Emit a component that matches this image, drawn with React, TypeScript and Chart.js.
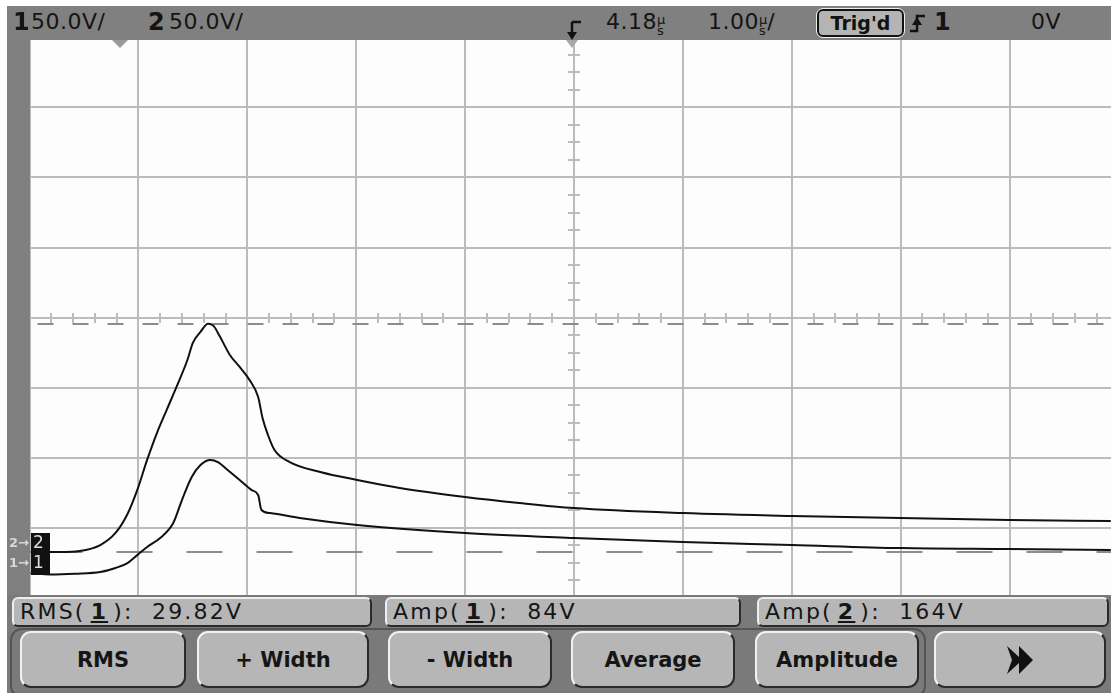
import React, { useEffect, useRef } from "react";
import { Chart, registerables } from "chart.js";

Chart.register(...registerables);

// ---- Scope settings ----
const timePerDiv = 1.0; // µs/div
const triggerDelay = 4.18; // µs (centre of screen)
const voltsPerDiv = 50; // V/div for both channels
const ch2CentreVolts = 167.2; // V shown at screen centre for ch2 (ground offset)
const ch1CentreVolts = 182.2; // V shown at screen centre for ch1
const triggerLevelCh2 = 162.6; // trigger level marker, in ch2 volts
const visibleDivs = 9.932; // screen is cut off on the right

// ---- Channel 2 (large trace) ----
const ch2Time = [
  -0.81, -0.54, -0.36, -0.17, -0.03, 0.08, 0.17, 0.26, 0.35, 0.44, 0.53, 0.63, 0.68, 0.75, 0.82,
  0.87, 0.93, 1.02, 1.11, 1.2, 1.28, 1.32, 1.37, 1.43, 1.57, 1.85, 2.19, 2.58, 3.18, 3.68, 4.18,
  5.18, 6.18, 7.18, 8.18, 9.11,
];
const ch2Volts = [
  0, 0, 0.7, 5.0, 13.6, 27.1, 44.3, 65.7, 84.9, 101.4, 117.8, 137.0, 149.2, 157.0, 162.8,
  161.3, 153.5, 140.6, 132.0, 122.8, 110.6, 95.6, 83.5, 72.8, 64.2, 57.1, 51.4, 45.7, 39.3, 35.0, 31.4,
  27.8, 25.7, 24.3, 22.8, 22.1,
];

// ---- Channel 1 (small trace) ----
const ch1Time = [
  -0.81, -0.63, -0.4, -0.17, -0.03, 0.08, 0.17, 0.26, 0.38, 0.5, 0.58, 0.67, 0.75, 0.84, 0.91,
  1.0, 1.11, 1.22, 1.28, 1.31, 1.39, 1.66, 2.19, 3.18, 4.18, 5.18, 6.18, 7.18, 8.18, 9.11,
];
const ch1Volts = [
  0, -1.0, -0.5, 0.7, 3.6, 7.1, 12.8, 18.6, 25.0, 35.7, 52.1, 68.5, 77.1, 80.7, 79.2,
  73.5, 66.4, 59.2, 55.7, 45.0, 42.8, 39.3, 34.3, 28.6, 25.0, 22.1, 20.0, 17.8, 17.1, 16.4,
];

// ---- Texts ----
const ch1Scale = "50.0V/";
const ch2Scale = "50.0V/";
const delayText = "4.18";
const timebaseText = "1.00";
const trigText = "Trig'd";
const trigLevelText = "0V";
const measurements = [
  { name: "RMS", ch: "1", value: "29.82V" },
  { name: "Amp", ch: "1", value: "84V" },
  { name: "Amp", ch: "2", value: "164V" },
];
const softkeys = ["RMS", "+ Width", "- Width", "Average", "Amplitude"];

const xMin = triggerDelay - 5 * timePerDiv;
const xMax = xMin + visibleDivs * timePerDiv;

const gridPlugin = {
  id: "scopeGrid",
  beforeDatasetsDraw(chart: any) {
    const { ctx, chartArea, scales } = chart;
    const xs = scales.x;
    const y2 = scales.y2;
    ctx.save();
    ctx.beginPath();
    ctx.rect(chartArea.left, chartArea.top, chartArea.right - chartArea.left, chartArea.bottom - chartArea.top);
    ctx.clip();
    ctx.fillStyle = "#fdfdfd";
    ctx.fillRect(chartArea.left, chartArea.top, chartArea.right - chartArea.left, chartArea.bottom - chartArea.top);
    ctx.strokeStyle = "#bcbcbc";
    ctx.lineWidth = 2;
    for (let k = 0; k <= 10; k++) {
      const x = Math.round(xs.getPixelForValue(xMin + k * timePerDiv));
      ctx.beginPath();
      ctx.moveTo(x, chartArea.top);
      ctx.lineTo(x, chartArea.bottom);
      ctx.stroke();
    }
    const y2min = ch2CentreVolts - 4 * voltsPerDiv;
    for (let k = 0; k <= 8; k++) {
      const y = Math.round(y2.getPixelForValue(y2min + k * voltsPerDiv));
      ctx.beginPath();
      ctx.moveTo(chartArea.left, y);
      ctx.lineTo(chartArea.right, y);
      ctx.stroke();
    }
    // centre axis minor ticks
    const yc = Math.round(y2.getPixelForValue(ch2CentreVolts));
    const xc = Math.round(xs.getPixelForValue(triggerDelay));
    for (let k = 0; k <= 50; k++) {
      const x = Math.round(xs.getPixelForValue(xMin + (k * timePerDiv) / 5));
      ctx.beginPath();
      ctx.moveTo(x, yc - 5);
      ctx.lineTo(x, yc + 5);
      ctx.stroke();
    }
    for (let k = 0; k <= 32; k++) {
      const y = Math.round(y2.getPixelForValue(y2min + (k * voltsPerDiv) / 4));
      ctx.beginPath();
      ctx.moveTo(xc - 6, y);
      ctx.lineTo(xc + 6, y);
      ctx.stroke();
    }
    // trigger level dashed line
    ctx.strokeStyle = "#8c8c8c";
    ctx.setLineDash([16, 19]);
    ctx.lineDashOffset = -8;
    const yt = Math.round(y2.getPixelForValue(triggerLevelCh2));
    ctx.beginPath();
    ctx.moveTo(chartArea.left, yt);
    ctx.lineTo(chartArea.right, yt);
    ctx.stroke();
    // ch2 ground reference dashed line
    ctx.setLineDash([36, 34]);
    ctx.lineDashOffset = -17;
    const yg = Math.round(y2.getPixelForValue(0));
    ctx.beginPath();
    ctx.moveTo(chartArea.left, yg);
    ctx.lineTo(chartArea.right, yg);
    ctx.stroke();
    ctx.restore();
  },
};

const FONT = "'DejaVu Sans', 'Liberation Sans', sans-serif";

function ScopeChart() {
  const ref = useRef<HTMLCanvasElement | null>(null);
  useEffect(() => {
    if (!ref.current) return;
    const chart = new Chart(ref.current, {
      type: "line",
      data: {
        datasets: [
          {
            label: "Channel 2",
            data: ch2Time.map((t, i) => ({ x: t, y: ch2Volts[i] })),
            yAxisID: "y2",
            borderColor: "#111",
            borderWidth: 2,
            pointRadius: 0,
            cubicInterpolationMode: "monotone",
          },
          {
            label: "Channel 1",
            data: ch1Time.map((t, i) => ({ x: t, y: ch1Volts[i] })),
            yAxisID: "y1",
            borderColor: "#111",
            borderWidth: 2,
            pointRadius: 0,
            cubicInterpolationMode: "monotone",
          },
        ],
      },
      options: {
        animation: false,
        responsive: false,
        maintainAspectRatio: false,
        devicePixelRatio: 1,
        layout: { padding: { left: 29.5, top: 37.3, right: 0, bottom: 95 } },
        plugins: { legend: { display: false }, tooltip: { enabled: false } },
        scales: {
          x: { type: "linear", min: xMin, max: xMax, display: false },
          y2: {
            type: "linear",
            min: ch2CentreVolts - 4 * voltsPerDiv,
            max: ch2CentreVolts + 4 * voltsPerDiv,
            display: false,
          },
          y1: {
            type: "linear",
            min: ch1CentreVolts - 4 * voltsPerDiv,
            max: ch1CentreVolts + 4 * voltsPerDiv,
            display: false,
          },
        },
      },
      plugins: [gridPlugin],
    } as any);
    return () => chart.destroy();
  }, []);
  return (
    <canvas
      ref={ref}
      width={1111}
      height={693}
      style={{ position: "absolute", left: 0, top: 0, width: 1111, height: 693 }}
    />
  );
}

const abs = (l: number, t: number, w: number, h: number): React.CSSProperties => ({
  position: "absolute",
  left: l,
  top: t,
  width: w,
  height: h,
  boxSizing: "border-box",
});

const panelStyle = (l: number, w: number): React.CSSProperties => ({
  ...abs(l, 597, w, 30),
  background: "#b6b6b6",
  borderRadius: 6,
  borderTop: "2px solid #eeeeee",
  borderLeft: "2px solid #eeeeee",
  borderBottom: "2px solid #2a2a2a",
  borderRight: "2px solid #2a2a2a",
  fontFamily: FONT,
  fontSize: 22,
  letterSpacing: 2.2,
  color: "#151515",
  lineHeight: "26px",
  paddingLeft: 6,
  whiteSpace: "pre",
});

const buttonStyle = (l: number, w: number): React.CSSProperties => ({
  ...abs(l, 631, w, 57),
  background: "#b6b6b6",
  borderRadius: 11,
  borderTop: "2px solid #f2f2f2",
  borderLeft: "2px solid #f2f2f2",
  borderBottom: "2px solid #2a2a2a",
  borderRight: "2px solid #2a2a2a",
  fontFamily: FONT,
  fontSize: 21,
  fontWeight: "bold",
  color: "#151515",
  display: "flex",
  alignItems: "center",
  justifyContent: "center",
  whiteSpace: "pre",
});

const topText: React.CSSProperties = {
  position: "absolute",
  fontFamily: FONT,
  fontSize: 22,
  letterSpacing: 0.5,
  color: "#141414",
  whiteSpace: "pre",
  lineHeight: "24px",
};

function Us() {
  return (
    <span style={{ fontSize: 13, display: "inline-block", verticalAlign: "top", lineHeight: "11px", marginTop: 4, letterSpacing: 0 }}>
      µ<br />s
    </span>
  );
}

export default function App() {
  const btnPos = [
    [20, 166],
    [197, 172],
    [388, 164],
    [571, 164],
    [755, 164],
  ];
  const panelPos = [
    [12, 360],
    [385, 356],
    [757, 352],
  ];
  return (
    <div style={{ position: "absolute", left: 0, top: 0, width: 1111, height: 693, background: "#ffffff", overflow: "hidden" }}>
      <ScopeChart />
      {/* top status bar */}
      <div style={{ ...abs(7, 6, 1104, 34), background: "#808080" }} />
      {/* left bar */}
      <div style={{ ...abs(7, 6, 23, 592), background: "#808080" }} />
      {/* bottom area */}
      <div style={{ ...abs(7, 595, 1104, 98), background: "#7a7a7a" }} />
      <div style={{ ...abs(10, 628, 916, 70), border: "2px solid #555", borderRadius: 12 }} />

      {/* top texts */}
      <div style={{ ...topText, left: 13, top: 10, fontWeight: "bold", fontSize: 24 }}>1</div>
      <div style={{ ...topText, left: 31, top: 10 }}>{ch1Scale}</div>
      <div style={{ ...topText, left: 148, top: 10, fontWeight: "bold", fontSize: 24 }}>2</div>
      <div style={{ ...topText, left: 169, top: 10 }}>{ch2Scale}</div>
      <svg style={{ position: "absolute", left: 560, top: 10, width: 30, height: 40 }}>
        <path d="M12 12 H21 M12 12 V27" stroke="#111" strokeWidth="2.5" fill="none" />
        <path d="M7 22 L17 22 L12 30 Z" fill="#111" />
        <path d="M6 30 L18 30 L12 38 Z" fill="#a8a8a8" />
      </svg>
      <div style={{ ...topText, left: 606, top: 10 }}>
        {delayText}
        <Us />
      </div>
      <div style={{ ...topText, left: 708, top: 10 }}>
        {timebaseText}
        <Us />/
      </div>
      <div
        style={{
          ...abs(817, 9, 87, 28),
          background: "#b4b4b4",
          border: "2px solid #111",
          outline: "1px solid #eee",
          borderRadius: 6,
          fontFamily: FONT,
          fontWeight: "bold",
          fontSize: 19,
          lineHeight: "24px",
          textAlign: "center",
          color: "#111",
        }}
      >
        {trigText}
      </div>
      <svg style={{ position: "absolute", left: 908, top: 12, width: 20, height: 24 }}>
        <path d="M2 19 H9 V4 H17" stroke="#111" strokeWidth="2.5" fill="none" />
        <path d="M4 13 L9 5 L14 13 Z" fill="#111" />
      </svg>
      <div style={{ ...topText, left: 934, top: 10, fontWeight: "bold", fontSize: 24 }}>1</div>
      <div style={{ ...topText, left: 1031, top: 10 }}>{trigLevelText}</div>
      {/* delay ref marker */}
      <svg style={{ position: "absolute", left: 110, top: 40, width: 20, height: 10 }}>
        <path d="M2 0 L18 0 L10 8 Z" fill="#9a9a9a" />
      </svg>

      {/* channel markers */}
      <div style={{ ...abs(31, 533, 19, 42), background: "#111" }} />
      <div style={{ position: "absolute", left: 33, top: 532, fontFamily: FONT, fontSize: 17, color: "#ddd", lineHeight: "20px" }}>
        2<br />1
      </div>
      <div style={{ position: "absolute", left: 9, top: 533, fontFamily: FONT, fontSize: 13, color: "#d8d8d8", lineHeight: "20px", fontWeight: "bold" }}>
        2→<br />1→
      </div>

      {/* measurement panels */}
      {measurements.map((m, i) => (
        <div key={i} style={panelStyle(panelPos[i][0], panelPos[i][1])}>
          {m.name}(<span style={{ fontWeight: "bold", textDecoration: "underline", margin: "0 5px" }}>{m.ch}</span>):  {m.value}
        </div>
      ))}

      {/* softkeys */}
      {softkeys.map((s, i) => (
        <div key={i} style={buttonStyle(btnPos[i][0], btnPos[i][1])}>
          {s}
        </div>
      ))}
      <div style={buttonStyle(934, 172)}>
        <svg width="30" height="30">
          <path d="M2 1 L14 12 L14 1 L28 15 L14 29 L14 18 L2 29 L7 15 Z" fill="#111" />
        </svg>
      </div>
    </div>
  );
}
